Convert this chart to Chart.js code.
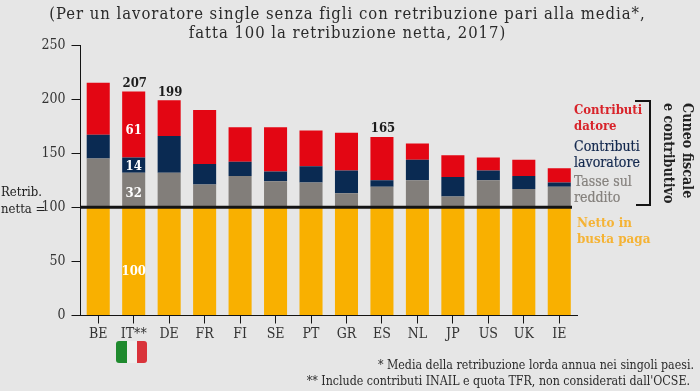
<!DOCTYPE html>
<html>
<head>
<meta charset="utf-8">
<script src="https://cdn.jsdelivr.net/npm/chart.js@4"></script>
<style>
  html, body { margin: 0; padding: 0; background: #e6e6e6; }
  #wrap { position: relative; width: 700px; height: 391px; overflow: hidden; font-family: "DejaVu Serif Condensed", "DejaVu Serif", serif; color: #222; }
  #wrap div { position: absolute; white-space: nowrap; }
  canvas { position: absolute; left: 0; top: 0; }
  #title { left: 0; width: 695px; top: 4px; text-align: center; font-size: 16.5px; line-height: 19px; letter-spacing: 0.97px; color: #2a2a2a; }
  #retrib { left: 1px; top: 183px; font-size: 13px; line-height: 17px; }
  .leg { left: 574px; font-size: 13px; line-height: 16px; }
  #leg1 { top: 102px; color: #d8232a; font-weight: bold; }
  #leg2 { top: 138px; color: #14294f; font-size: 14px; -webkit-text-stroke: 0.2px #14294f; }
  #leg3 { top: 173px; color: #85817d; font-size: 14px; -webkit-text-stroke: 0.2px #85817d; }
  #leg4 { left: 577px; top: 215px; color: #f5b335; font-weight: bold; font-size: 13.3px; }
  #cuneo { left: 669px; top: 103px; width: 110px; font-size: 14.2px; line-height: 19px; font-weight: bold; transform-origin: 0 0; transform: translate(28px, 0) rotate(90deg); }
  #notes { right: 6px; top: 358px; text-align: right; font-size: 12.3px; line-height: 15.5px; color: #2a2a2a; }
  #notes span { padding-right: 4px; }
  #flag { left: 116px; top: 341px; width: 31px; height: 22px; border-radius: 3px; filter: blur(0.4px);
    background: linear-gradient(90deg, #1f8a2e 0 35%, #eef0ee 35% 68%, #d9333a 68% 100%); }
</style>
</head>
<body>
<div id="wrap">
  <canvas id="chart" width="700" height="391"></canvas>
  <div id="title">(Per un lavoratore single senza figli con retribuzione pari alla media*,<br>fatta 100 la retribuzione netta, 2017)</div>
  <div id="retrib">Retrib.<br>netta =</div>
  <div class="leg" id="leg1">Contributi<br>datore</div>
  <div class="leg" id="leg2">Contributi<br>lavoratore</div>
  <div class="leg" id="leg3">Tasse sul<br>reddito</div>
  <div class="leg" id="leg4">Netto in<br>busta paga</div>
  <div id="cuneo">Cuneo fiscale<br>e contributivo</div>
  <div id="flag"></div>
  <div id="notes">* Media della retribuzione lorda annua nei singoli paesi.<br><span>** Include contributi INAIL e quota TFR, non considerati dall'OCSE.</span></div>
</div>
<script>
const countries = ["BE", "IT**", "DE", "FR", "FI", "SE", "PT", "GR", "ES", "NL", "JP", "US", "UK", "IE"];
const netto = [100, 100, 100, 100, 100, 100, 100, 100, 100, 100, 100, 100, 100, 100];
const tasse = [45, 32, 32, 21, 29, 24, 23, 13, 19, 25, 10, 25, 17, 19];
const lavoratore = [22, 14, 34, 19, 13, 9, 15, 21, 6, 19, 18, 9, 12, 4];
const datore = [48, 61, 33, 50, 32, 41, 33, 35, 40, 15, 20, 12, 15, 13];
const yTicks = [0, 50, 100, 150, 200, 250];
const totalsShown = ["IT**", "DE", "ES"];
const insideLabelCountry = "IT**";
const baseline = 100;

// extra shift in px for the white labels, same order as the datasets
const insideShift = [10, 4, 2, 6];

const annotate = {
  id: "annotate",
  afterDatasetsDraw(chart) {
    const { ctx, scales: { x, y } } = chart;
    ctx.save();

    // thick line at 100
    ctx.strokeStyle = "#141414";
    ctx.lineWidth = 3;
    ctx.beginPath();
    ctx.moveTo(x.left, y.getPixelForValue(baseline));
    ctx.lineTo(x.right - 5, y.getPixelForValue(baseline));
    ctx.stroke();

    ctx.textAlign = "center";
    ctx.textBaseline = "middle";
    ctx.font = 'bold 13px "DejaVu Serif Condensed", "DejaVu Serif", serif';

    // totals over the bars
    ctx.fillStyle = "#1c1c1c";
    totalsShown.forEach((c) => {
      const i = countries.indexOf(c);
      const total = netto[i] + tasse[i] + lavoratore[i] + datore[i];
      ctx.fillText(total, x.getPixelForValue(i) + 1, y.getPixelForValue(total) - 8);
    });

    // values inside the Italian bar
    ctx.fillStyle = "#ffffff";
    const it = countries.indexOf(insideLabelCountry);
    chart.data.datasets.forEach((ds, d) => {
      const bar = chart.getDatasetMeta(d).data[it];
      ctx.fillText(ds.data[it], bar.x, (bar.y + bar.base) / 2 + insideShift[d]);
    });

    ctx.restore();

    // bracket
    ctx.save();
    ctx.strokeStyle = "#141414";
    ctx.lineWidth = 2;
    ctx.beginPath();
    ctx.moveTo(635, 101);
    ctx.lineTo(650, 101);
    ctx.lineTo(650, 205);
    ctx.lineTo(636, 205);
    ctx.stroke();
    ctx.restore();
  },
};

new Chart(document.getElementById("chart"), {
  type: "bar",
  data: {
    labels: countries,
    datasets: [
      { label: "Netto in busta paga", data: netto, backgroundColor: "#f9b000" },
      { label: "Tasse sul reddito", data: tasse, backgroundColor: "#827e7a" },
      { label: "Contributi lavoratore", data: lavoratore, backgroundColor: "#0a2a52" },
      { label: "Contributi datore", data: datore, backgroundColor: "#e30613" },
    ],
  },
  options: {
    responsive: false,
    animation: false,
    categoryPercentage: 1,
    barPercentage: 0.65,
    layout: { padding: { top: 45, right: 123, bottom: 0, left: 0 } },
    plugins: { legend: { display: false }, tooltip: { enabled: false } },
    scales: {
      x: {
        stacked: true,
        afterFit: (s) => { s.height = 75.5; },
        border: { color: "#141414", width: 1 },
        grid: { offset: false, drawOnChartArea: false, color: "#141414", tickLength: 8 },
        ticks: { color: "#333", padding: 2, maxRotation: 0, autoSkip: false, font: { family: '"DejaVu Serif Condensed", "DejaVu Serif", serif', size: 14 } },
      },
      y: {
        stacked: true,
        min: 0,
        max: 250,
        afterFit: (s) => { s.width = 80.5; },
        afterBuildTicks: (s) => { s.ticks = yTicks.map((value) => ({ value })); },
        border: { color: "#141414", width: 1 },
        grid: { drawOnChartArea: false, color: "#141414", tickLength: 9 },
        ticks: { color: "#333", padding: 6, font: { family: '"DejaVu Serif Condensed", "DejaVu Serif", serif', size: 14 } },
      },
    },
  },
  plugins: [annotate],
});
</script>
</body>
</html>
